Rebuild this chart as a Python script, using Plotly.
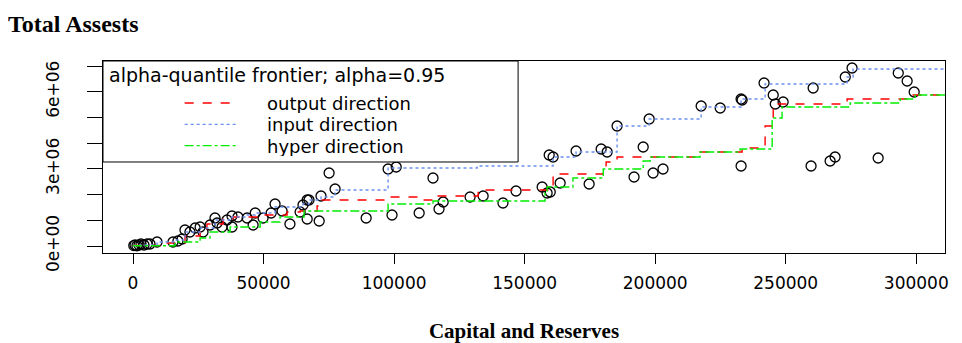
import plotly.graph_objects as go

# observed banks: capital and reserves vs total assets
capital = [300, 770, 1500, 2300, 3060, 4200, 5400, 6500, 9200, 15300, 17200, 18800,
           19900, 21800, 23800, 25700, 26800, 29500, 31400, 32200, 34100, 36000,
           37900, 37900, 40200, 43700, 46000, 46800, 49800, 52900, 54400, 57100,
           60100, 64000, 65100, 66700, 67400, 66700, 71300, 72000, 75100, 77400,
           89300, 97700, 100800, 99200, 109600, 114900, 117200, 118800, 129100,
           134100, 141700, 146700, 156700, 158600, 159400, 160900, 169700, 179300,
           181600, 185400, 195400, 197700, 203000, 199200, 191900, 174700, 163600,
           159800, 217600, 224900, 232900, 233300, 241700, 245200, 246000, 249000,
           260500, 232900, 259700, 267000, 268900, 285400, 272800, 275400, 293100,
           296500, 299200]
assets = [15000, 39000, 10000, 40000, 78000, 40000, 78000, 78000, 156000, 156000,
          195000, 272000, 623000, 545000, 700000, 739000, 545000, 817000, 1090000,
          895000, 739000, 1012000, 1167000, 739000, 1128000, 1090000, 817000,
          1284000, 1090000, 1284000, 1634000, 1362000, 856000, 1323000, 1595000,
          1790000, 1790000, 1051000, 973000, 1946000, 2841000, 2218000, 1090000,
          2996000, 3074000, 1206000, 1284000, 2646000, 1440000, 1712000, 1907000,
          1946000, 1673000, 2140000, 2296000, 2062000, 3541000, 3463000, 3697000,
          3774000, 3658000, 4669000, 3852000, 4942000, 2996000, 2841000, 2685000,
          2413000, 2451000, 2101000, 5448000, 5370000, 5720000, 5681000, 6342000,
          5876000, 5525000, 5603000, 6148000, 3113000, 3113000, 3307000, 3463000,
          3424000, 6576000, 6926000, 6732000, 6420000, 5992000]

# alpha-quantile frontiers (step functions)
out_x = [0, 10300, 19900, 25700, 28300, 34500, 38300, 47500, 59000, 64000, 70500,
         71600, 97700, 109200, 114900, 132200, 160900, 180100, 181200, 185400,
         217200, 233300, 242100, 245200, 273500, 298800, 320000]
out_y = [20000, 117000, 389000, 545000, 856000, 1051000, 1128000, 1206000, 1323000,
         1362000, 1556000, 1790000, 1907000, 1790000, 1946000, 2179000, 2802000,
         3035000, 3268000, 3463000, 3658000, 3813000, 4669000, 5525000, 5720000,
         5876000, 5876000]

in_x = [0, 2700, 9200, 16100, 19900, 25700, 31400, 37900, 43700, 46800, 54400,
        65100, 67400, 72000, 77400, 97700, 131800, 160900, 169700, 185400, 197700,
        217600, 232900, 242100, 273500, 275800, 320000]
in_y = [20000, 39000, 156000, 233000, 545000, 700000, 1012000, 1128000, 1206000,
        1284000, 1518000, 1634000, 1790000, 1907000, 2179000, 3035000, 3113000,
        3463000, 3658000, 4669000, 4942000, 5409000, 5720000, 6304000, 6576000,
        6887000, 6887000]

hyp_x = [0, 16100, 25700, 29500, 37200, 48700, 56300, 65500, 97700, 114900, 157800,
         158600, 168500, 180100, 195400, 198100, 217200, 232500, 244800, 248600,
         274700, 293900, 299600, 320000]
hyp_y = [10000, 156000, 311000, 545000, 739000, 934000, 1128000, 1362000, 1634000,
         1751000, 2062000, 2296000, 2646000, 2996000, 3307000, 3463000, 3658000,
         3774000, 4981000, 5409000, 5564000, 5720000, 5876000, 5876000]

x_ticks = [0, 50000, 100000, 150000, 200000, 250000, 300000]
x_labels = ["0", "50000", "100000", "150000", "200000", "250000", "300000"]
y_ticks = [0, 1e6, 2e6, 3e6, 4e6, 5e6, 6e6, 7e6]
y_labels = ["0e+00", "", "", "3e+06", "", "", "6e+06", ""]

sans = "DejaVu Sans, Arial, sans-serif"
serif = "Liberation Serif, Times New Roman, serif"

# the page body adds an 8px margin, so the figure is drawn 8px smaller
W, H = 954, 335

frontiers = [
    ("output direction", out_x, out_y, "#ff0000", "dash"),
    ("input direction", in_x, in_y, "#6a8ff0", "dot"),
    ("hyper direction", hyp_x, hyp_y, "#00ee00", "dashdot"),
]

fig = go.Figure()
fig.add_trace(go.Scatter(
    x=capital, y=assets, mode="markers", showlegend=False,
    marker=dict(symbol="circle-open", size=10, color="black", line=dict(width=1.3)),
))
for name, xs, ys, color, dash in frontiers:
    fig.add_trace(go.Scatter(
        x=xs, y=ys, mode="lines", line_shape="hv", name=name, showlegend=False,
        line=dict(color=color, dash=dash, width=1.4),
    ))

# R-style legend drawn by hand: frame, title, three keys
fig.add_shape(type="rect", xref="paper", yref="paper", x0=0, x1=0.493,
              y0=0.474, y1=1, fillcolor="white", layer="above",
              line=dict(color="black", width=1))
fig.add_annotation(text="alpha-quantile frontier; alpha=0.95", xref="paper",
                   yref="paper", x=0.005, y=0.927, xanchor="left",
                   yanchor="middle", showarrow=False, font=dict(size=19))
for i, (name, xs, ys, color, dash) in enumerate(frontiers):
    ky = 0.781 - i * 0.111
    fig.add_shape(type="line", xref="paper", yref="paper", x0=0.097, x1=0.159,
                  y0=ky, y1=ky, layer="above",
                  line=dict(color=color, dash=dash, width=1.4))
    fig.add_annotation(text=name, xref="paper", yref="paper", x=0.192, y=ky,
                       xanchor="left", yanchor="middle", showarrow=False,
                       height=20, font=dict(size=18))

fig.update_layout(
    width=W, height=H,
    margin=dict(l=95, r=17, t=53, b=90),
    plot_bgcolor="white", paper_bgcolor="white",
    font=dict(family=sans, size=17, color="black"),
    title=dict(text="<b>Total Assests</b>", x=0, xanchor="left",
               y=1 - 16 / H, yanchor="middle",
               font=dict(family=serif, size=24, color="black")),
    showlegend=False,
)
fig.update_xaxes(
    range=[-11500, 311000], tickvals=x_ticks, ticktext=x_labels,
    ticks="outside", ticklen=10, automargin=False,
    tickcolor="black", showgrid=False, zeroline=False, showline=True,
    linecolor="black", linewidth=1, mirror=True, ticklabelstandoff=5,
    title=dict(text="<b>Capital and Reserves</b>", standoff=34,
               font=dict(family=serif, size=21, color="black")),
)
fig.update_yaxes(
    range=[-272000, 7198000], tickvals=y_ticks, ticktext=y_labels,
    ticks="outside", ticklen=15, tickcolor="black", tickangle=-90,
    automargin=False, showgrid=False, zeroline=False, showline=True,
    linecolor="black", linewidth=1, mirror=True, ticklabelstandoff=21,
)

fig.write_html("out.html")
